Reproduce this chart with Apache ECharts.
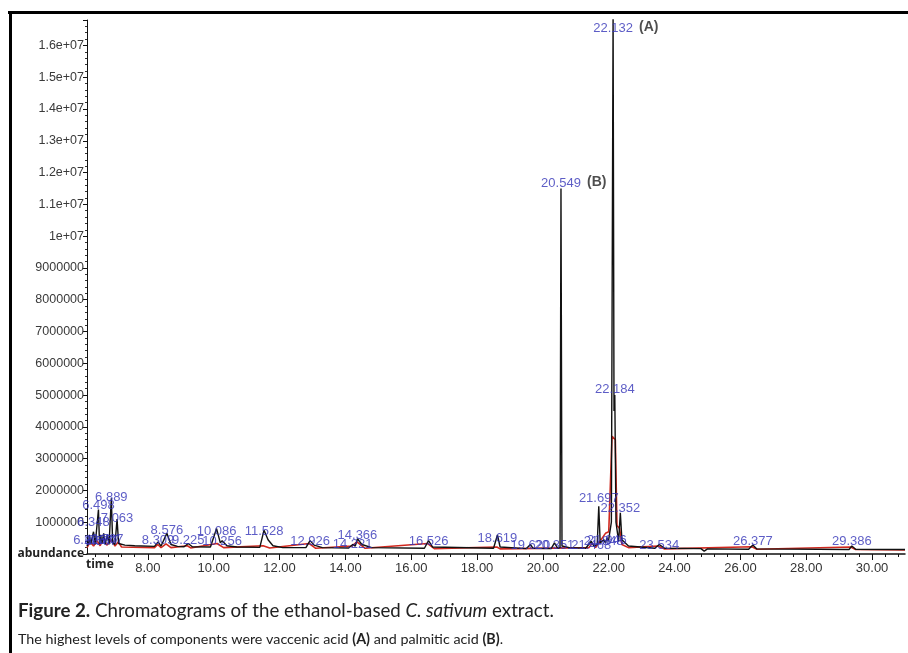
<!DOCTYPE html>
<html>
<head>
<meta charset="utf-8">
<script src="https://cdn.jsdelivr.net/npm/echarts@6/dist/echarts.min.js"></script>
<style>
  html, body { margin: 0; padding: 0; background: #fff; }
  #chart { width: 908px; height: 653px; }
</style>
</head>
<body>
<div id="chart"></div>
<script>
// black trace (total ion chromatogram)
var ticTime = [6.15, 6.20, 6.223, 6.26, 6.348, 6.40, 6.46, 6.498, 6.53, 6.567, 6.60, 6.657, 6.70, 6.767, 6.82, 6.889, 6.93, 7.00, 7.063, 7.11, 7.3, 7.6,
  8.2, 8.309, 8.4, 8.576, 8.70, 8.9, 9.1, 9.225, 9.35, 9.9, 10.086, 10.2, 10.256, 10.4, 10.7, 11.4, 11.528, 11.65, 11.8, 12.1,
  12.8, 12.926, 13.05, 13.3, 14.1, 14.221, 14.3, 14.366, 14.5, 14.8, 16.4, 16.526, 16.65, 18.5, 18.619, 18.7, 19.5, 19.62, 19.7,
  20.25, 20.351, 20.45, 20.52, 20.549, 20.58, 20.8, 21.3, 21.468, 21.55, 21.65, 21.697, 21.74, 21.848, 21.9, 21.946, 21.99,
  22.08, 22.132, 22.16, 22.184, 22.22, 22.3, 22.352, 22.40, 22.6, 23.4, 23.534, 23.7, 24.8, 24.9, 25.0, 26.25, 26.377, 26.5,
  29.3, 29.386, 29.5, 31.0];
var ticAbund = [250000, 350000, 600000, 300000, 700000, 300000, 280000, 1400000, 320000, 600000, 320000, 650000, 300000, 600000, 300000, 1750000, 350000, 300000, 1100000, 330000, 280000, 260000,
  240000, 380000, 250000, 650000, 300000, 240000, 230000, 330000, 230000, 220000, 800000, 350000, 420000, 260000, 220000, 210000, 750000, 450000, 260000, 200000,
  200000, 420000, 280000, 200000, 190000, 300000, 250000, 480000, 300000, 200000, 180000, 420000, 220000, 180000, 600000, 220000, 170000, 300000, 180000,
  170000, 350000, 180000, 200000, 11500000, 250000, 200000, 180000, 400000, 250000, 300000, 1500000, 350000, 450000, 350000, 500000, 400000,
  1000000, 17000000, 4500000, 5000000, 1000000, 400000, 1300000, 450000, 250000, 180000, 300000, 180000, 170000, 90000, 160000, 150000, 280000, 160000,
  140000, 250000, 150000, 140000];

// red trace
var redTime = [6.15, 6.25, 6.35, 6.45, 6.55, 6.65, 6.75, 6.9, 7.0, 7.1, 7.2, 8.2, 8.3, 8.4, 8.55, 8.7, 9.2, 9.3, 10.1, 10.3, 11.5, 11.7,
  12.9, 13.1, 14.2, 14.35, 14.6, 16.5, 16.7, 18.6, 18.7, 21.4, 21.5, 21.6, 21.8, 21.9, 22.0, 22.1, 22.2, 22.25, 22.33, 22.4, 22.6,
  23.5, 23.7, 26.35, 26.5, 29.35, 29.5, 31.0];
var redAbund = [200000, 380000, 250000, 420000, 260000, 480000, 280000, 450000, 250000, 380000, 220000, 200000, 300000, 200000, 320000, 200000, 260000, 190000, 330000, 200000, 260000, 190000,
  330000, 180000, 250000, 380000, 180000, 330000, 170000, 220000, 160000, 200000, 350000, 200000, 500000, 650000, 700000, 3700000, 3600000, 900000, 800000, 300000, 200000,
  250000, 160000, 230000, 150000, 220000, 140000, 130000];

// peak labels: retention time, height of the label centre, text
var peakTime = [6.223, 6.348, 6.498, 6.567, 6.657, 6.767, 6.889, 7.063, 8.309, 8.576, 9.225, 10.086, 10.256, 11.528, 12.926, 14.221, 14.366,
  16.526, 18.619, 19.620, 20.351, 20.549, 21.468, 21.697, 21.848, 21.946, 22.132, 22.184, 22.352, 23.534, 26.377, 29.386];
var peakLabelY = [440000, 1000000, 1540000, 410000, 440000, 470000, 1790000, 1130000, 440000, 750000, 440000, 720000, 410000, 720000, 410000, 310000, 570000,
  410000, 500000, 280000, 280000, 11670000, 280000, 1760000, 410000, 440000, 16540000, 5190000, 1420000, 280000, 410000, 410000];
var peakText = ['6.223', '6.348', '6.498', '6.567', '6.657', '6.767', '6.889', '7.063', '8.309', '8.576', '9.225', '10.086', '10.256', '11.528', '12.926', '14.221', '14.366',
  '16.526', '18.619', '19.620', '20.351', '20.549', '21.468', '21.697', '21.848', '21.946', '22.132', '22.184', '22.352', '23.534', '26.377', '29.386'];

var markTime = [22.132, 20.549];
var markY = [16540000, 11670000];
var markText = ['(A)', '(B)'];

var xTicks = [8, 10, 12, 14, 16, 18, 20, 22, 24, 26, 28, 30];

(function () {
  var chart = echarts.init(document.getElementById('chart'), null, { renderer: 'canvas' });

  function zip(xs, ys, extra) {
    return xs.map(function (x, i) { return extra ? [x, ys[i], extra[i]] : [x, ys[i]]; });
  }

  // minor ticks every 0.4 min between the labelled ones
  var minorTicks = [];
  for (var t = 6.4; t < 31; t += 0.4) {
    var r = Math.round(t * 10) / 10;
    if (r % 2 !== 0) minorTicks.push(r);
  }

  var sans = '"Liberation Sans", Arial, sans-serif';

  chart.setOption({
    animation: false,
    grid: { left: 87, right: 3, top: 20, bottom: 99 },
    xAxis: [{
      type: 'value',
      min: 6.15,
      max: 31.0,
      axisLine: { lineStyle: { color: '#111', width: 1.5 } },
      axisTick: { customValues: xTicks, length: 6, lineStyle: { color: '#111' } },
      axisLabel: {
        customValues: xTicks,
        color: '#333',
        fontFamily: sans,
        fontSize: 13,
        margin: 8,
        formatter: function (v) { return v.toFixed(2); }
      },
      splitLine: { show: false }
    }, {
      type: 'value',
      min: 6.15,
      max: 31.0,
      position: 'bottom',
      axisLine: { show: false },
      axisTick: { customValues: minorTicks, length: 3, lineStyle: { color: '#111' } },
      axisLabel: { show: false },
      splitLine: { show: false }
    }],
    yAxis: {
      type: 'value',
      min: 0,
      max: 16800000,
      interval: 1000000,
      axisLine: { show: true, lineStyle: { color: '#111' } },
      axisTick: { show: true, length: 4, lineStyle: { color: '#111' } },
      minorTick: { show: true, splitNumber: 5, length: 2, lineStyle: { color: '#333' } },
      splitLine: { show: false },
      axisLabel: {
        color: '#3a3a3a',
        fontFamily: sans,
        fontSize: 12.5,
        margin: 3,
        showMaxLabel: false,
        formatter: function (v) {
          if (v === 0) return '{ab|abundance}';
          if (v >= 10000000) return (Math.round(v / 1000000) / 10) + 'e+07';
          return String(v);
        },
        rich: { ab: { fontWeight: 'bold', color: '#222', fontSize: 12, fontFamily: '"Open Sans", sans-serif' } }
      }
    },
    series: [{
      type: 'line',
      name: 'red',
      data: zip(redTime, redAbund),
      showSymbol: false,
      lineStyle: { color: '#d0281e', width: 1.6 },
      z: 2,
      silent: true
    }, {
      type: 'line',
      name: 'tic',
      data: zip(ticTime, ticAbund),
      showSymbol: false,
      lineStyle: { color: '#111', width: 1.4 },
      z: 3,
      silent: true
    }, {
      type: 'scatter',
      data: zip(peakTime, peakLabelY, peakText),
      symbolSize: 0,
      silent: true,
      clip: false,
      z: 5,
      label: {
        show: true,
        position: 'inside',
        color: '#3434b8',
        fontFamily: sans,
        fontSize: 13,
        formatter: function (p) { return p.data[2]; }
      }
    }, {
      type: 'scatter',
      data: zip(markTime, markY, markText),
      symbolSize: 0,
      silent: true,
      clip: false,
      z: 5,
      label: {
        show: true,
        position: 'inside',
        align: 'left',
        offset: [26, -1],
        color: '#222',
        fontWeight: 'bold',
        fontFamily: sans,
        fontSize: 14,
        formatter: function (p) { return p.data[2]; }
      }
    }],
    graphic: [
      { type: 'line', shape: { x1: 8, y1: 12.5, x2: 908, y2: 12.5 }, style: { stroke: '#000', lineWidth: 3 } },
      { type: 'line', shape: { x1: 10.5, y1: 11, x2: 10.5, y2: 653 }, style: { stroke: '#000', lineWidth: 3 } },
      { type: 'text', left: 86, top: 559, style: { text: 'time', font: 'bold 12px "Open Sans", sans-serif', fill: '#222' } },
      {
        type: 'text', left: 18, top: 601,
        style: {
          text: '{b|Figure 2.} Chromatograms of the ethanol-based {i|C. sativum} extract.',
          font: '18.7px Lato, sans-serif',
          fill: '#222',
          rich: {
            b: { fontWeight: 'bold', fontSize: 18.7, fontFamily: 'Lato, sans-serif', fill: '#222' },
            i: { fontStyle: 'italic', fontSize: 18.7, fontFamily: 'Lato, sans-serif', fill: '#222' }
          }
        }
      },
      {
        type: 'text', left: 18, top: 632,
        style: {
          text: 'The highest levels of components were vaccenic acid {b|(A)} and palmitic acid {b|(B)}.',
          font: '14.3px Lato, sans-serif',
          fill: '#222',
          rich: { b: { fontWeight: 'bold', fontSize: 14.3, fontFamily: 'Lato, sans-serif', fill: '#222' } }
        }
      }
    ]
  });
})();
</script>
</body>
</html>
